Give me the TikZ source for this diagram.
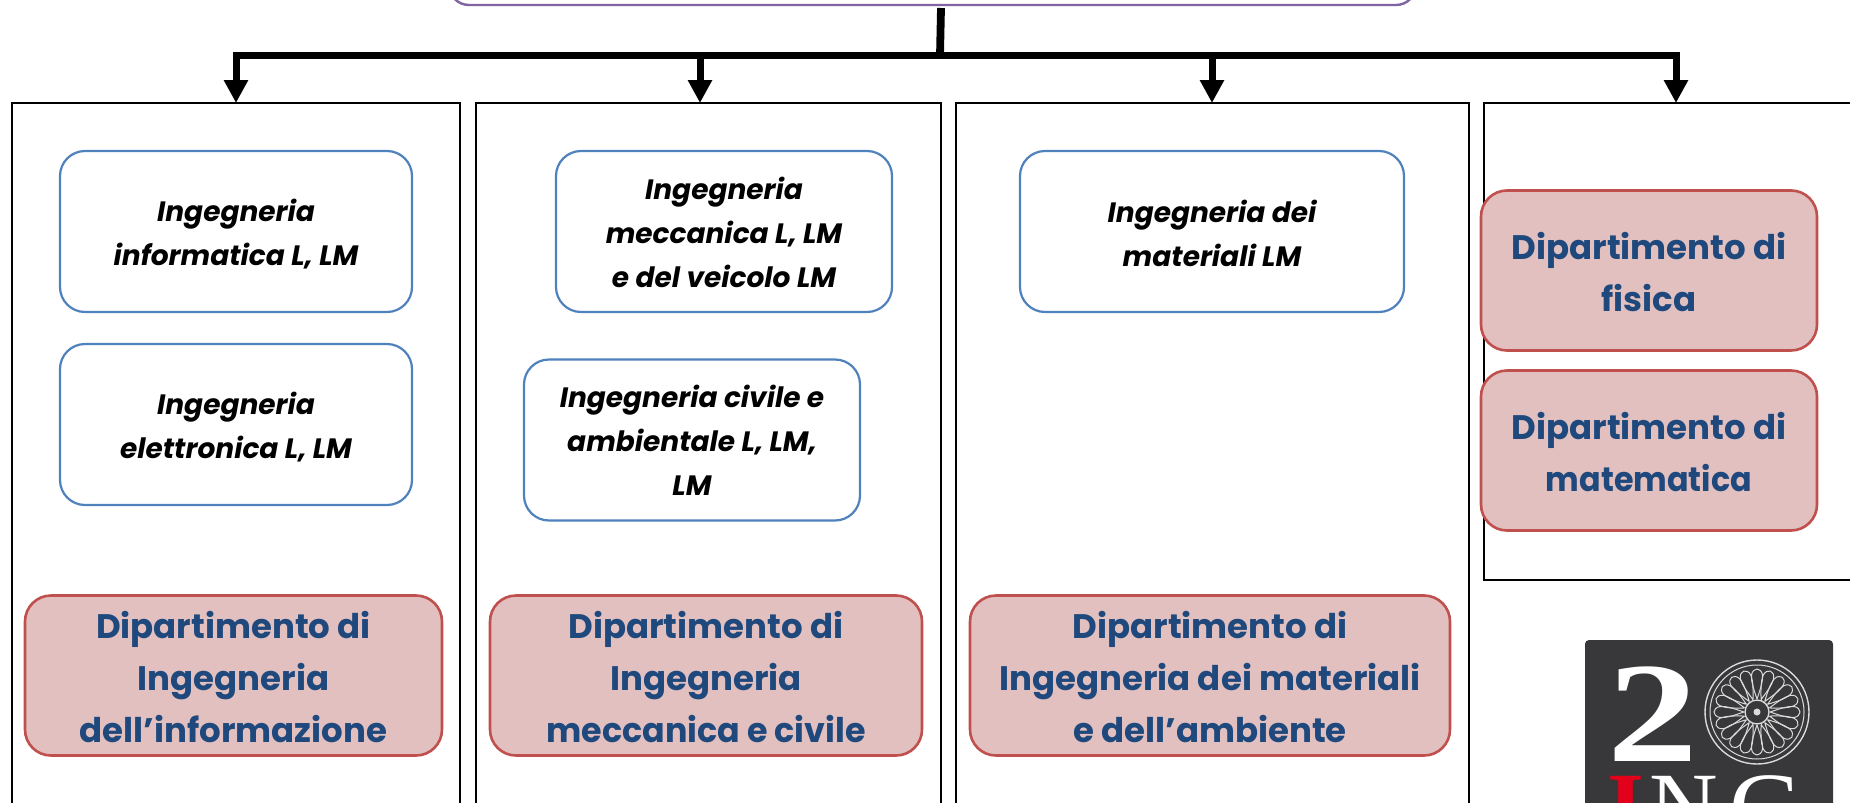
\documentclass[tikz,border=0pt]{standalone}
\usepackage{fontspec}
\usepackage{graphicx}
\setmainfont{Poppins}
\newfontfamily\logofont{Liberation Serif}
\usetikzlibrary{arrows.meta}
\definecolor{pur}{HTML}{8064A2}
\definecolor{blu}{HTML}{4F81BD}
\definecolor{rd}{HTML}{C0504D}
\definecolor{pnk}{HTML}{E2C0C0}
\definecolor{nav}{HTML}{1F497D}
\definecolor{lg}{HTML}{38383A}
\definecolor{inc}{HTML}{E2001A}
\definecolor{rosec}{HTML}{DADADA}
\tikzset{
 colbox/.style={draw=black,line width=2.2pt,fill=white,outer sep=0pt,inner sep=0pt},
 topbox/.style={draw=pur,line width=2.4pt,fill=white,rounded corners=20pt,outer sep=0pt,minimum width=967pt,minimum height=45pt},
 prog/.style={draw=blu,line width=2.2pt,fill=white,rounded corners=25pt,inner sep=0pt,minimum height=161pt},
 progtxt/.style={font=\fontsize{28}{44}\selectfont\itshape\bfseries,align=center,text=black},
 dept/.style={draw=rd,line width=2.6pt,fill=pnk,rounded corners=26pt,inner sep=0pt,minimum height=160pt},
 depttxt/.style={font=\fontsize{34}{52}\selectfont\bfseries,align=center,text=nav},
 bar/.style={line width=7.8pt,draw=black},
 arr/.style={line width=7pt,draw=black,-{Triangle[length=23pt,width=23pt]}},
 logoglyph/.style={anchor=base,inner sep=0pt,font=\logofont\fontsize{95}{95}\selectfont},
 roseline/.style={draw=rosec,line width=1pt},
}
\begin{document}
\begin{tikzpicture}[x=1pt,y=-1pt]
\useasboundingbox (0,0) rectangle (1850,803);
\fill[white] (0,0) rectangle (1850,803);
\node[topbox] (head) at (932.5,-17.5) {};
\node[colbox,minimum width=448pt,minimum height=727pt] (col1) at (236,466.5) {};
\node[colbox,minimum width=465pt,minimum height=727pt] (col2) at (708.5,466.5) {};
\node[colbox,minimum width=513pt,minimum height=727pt] (col3) at (1212.5,466.5) {};
\node[colbox,minimum width=396pt,minimum height=477pt] (col4) at (1682,341.5) {};
% connectors
\coordinate (top) at (941,8);
\coordinate (hub) at (940,55.5);
\coordinate (l) at (236,55.5);
\coordinate (r) at (1676,55.5);
\coordinate (c2) at (700,55.5);
\coordinate (c3) at (1212,55.5);
\draw[bar] (top) -- (hub);
\draw[bar,shorten <=-3.5pt,shorten >=-3.5pt] (l) -- (r);
\draw[arr] (l) -- (l |- col1.north);
\draw[arr] (c2) -- (c2 |- col2.north);
\draw[arr] (c3) -- (c3 |- col3.north);
\draw[arr] (r) -- (r |- col4.north);
% programme boxes
\node[prog,minimum width=352pt] (p1) at (236,231.5) {};
\node[progtxt] (p1t) at ([yshift=-3pt]p1.center) {Ingegneria\\informatica L, LM};
\node[prog,minimum width=352pt] (p2) at (236,424.5) {};
\node[progtxt] (p2t) at ([yshift=-3pt]p2.center) {Ingegneria\\elettronica L, LM};
\node[prog,minimum width=336pt] (p3) at (724,231.5) {};
\node[progtxt] (p3t) at ([yshift=-1pt]p3.center) {Ingegneria\\meccanica L, LM\\e del veicolo LM};
\node[prog,minimum width=336pt] (p4) at (692,440) {};
\node[progtxt] (p4t) at ([yshift=-0.5pt]p4.center) {Ingegneria civile e\\ambientale L, LM,\\LM};
\node[prog,minimum width=384pt] (p5) at (1212,231.5) {};
\node[progtxt] (p5t) at ([yshift=-2pt]p5.center) {Ingegneria dei\\materiali LM};
% departments
\node[dept,minimum width=417pt] (d1) at (233.5,675.5) {};
\node[depttxt] (d1t) at ([yshift=-2pt]d1.center) {Dipartimento di\\Ingegneria\\dell’informazione};
\node[dept,minimum width=432pt] (d2) at (706,675.5) {};
\node[depttxt] (d2t) at ([yshift=-2pt]d2.center) {Dipartimento di\\Ingegneria\\\scalebox{.98}[1]{meccanica e civile}};
\node[dept,minimum width=480pt] (d3) at (1210,675.5) {};
\node[depttxt] (d3t) at ([yshift=-2pt]d3.center) {Dipartimento di\\Ingegneria dei materiali\\e dell’ambiente};
\node[dept,minimum width=336pt] (d4) at (1649,270.5) {};
\node[depttxt] (d4t) at ([yshift=-1.5pt]d4.center) {Dipartimento di\\fisica};
\node[dept,minimum width=336pt] (d5) at (1649,450.5) {};
\node[depttxt] (d5t) at ([yshift=-2pt]d5.center) {Dipartimento di\\\scalebox{.935}[1]{matematica}};
% logo
\fill[lg,rounded corners=4pt] (1585,640) rectangle (1833,830);
\node[logoglyph,text=white,font=\logofont\bfseries\fontsize{143}{143}\selectfont] (two) at (1652.5,761) {\scalebox{1.27}[1]{2}};
\node[logoglyph,text=inc,font=\logofont\bfseries\fontsize{95}{95}\selectfont] (li) at (1626,838) {I};
\node[logoglyph,text=white] (ln) at (1684,838) {N};
\node[logoglyph,text=white] (lc) at (1764,838) {\scalebox{1.1}[1]{C}};
\coordinate (rose) at (1757,712);
\draw[roseline,line width=1.4pt] (rose) circle (52);
\draw[roseline] (rose) circle (47);
\foreach \a in {0,18,...,342}{
 \begin{scope}[shift={(rose)},rotate=\a]
 \draw[roseline] (13,0) .. controls (22,3) and (30,6) .. (37,5.5) .. controls (41,5) and (43,2) .. (43,0) .. controls (43,-2) and (41,-5) .. (37,-5.5) .. controls (30,-6) and (22,-3) .. (13,0);
 \end{scope}
}
\draw[roseline,line width=1.4pt,fill=lg] (rose) circle (12);
\fill[rosec] (rose) circle (3.5);
\end{tikzpicture}
\end{document}
